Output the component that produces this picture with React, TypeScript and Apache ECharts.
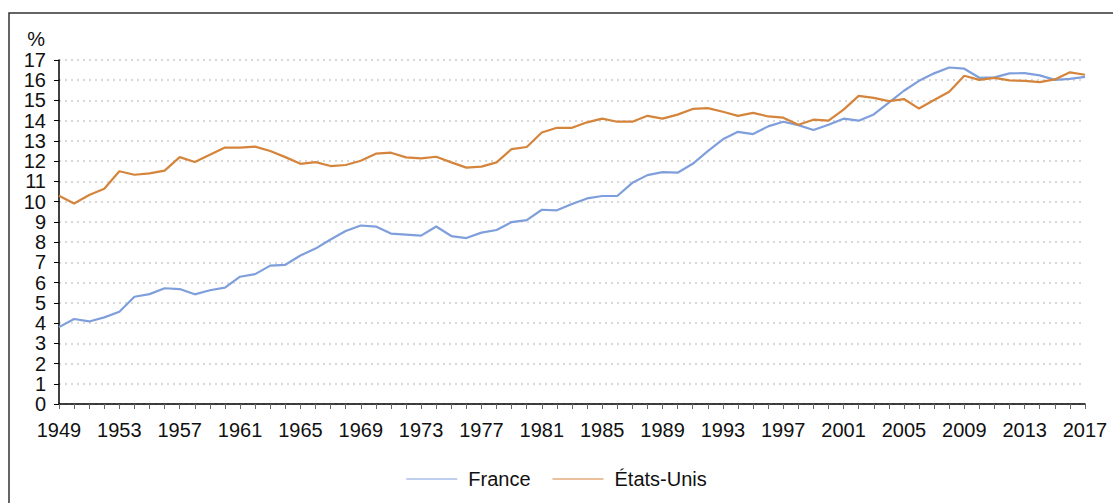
import React, { useEffect, useRef } from "react";
import * as echarts from "echarts";

const years: string[] = [];
for (let y = 1949; y <= 2017; y++) years.push(String(y));

const france = [
  3.8, 4.2, 4.08, 4.28, 4.56, 5.3, 5.43, 5.72, 5.68, 5.42,
  5.62, 5.75, 6.29, 6.42, 6.84, 6.88, 7.34, 7.68, 8.13, 8.55,
  8.82, 8.77, 8.42, 8.37, 8.32, 8.77, 8.3, 8.2, 8.47, 8.6,
  8.99, 9.09, 9.6, 9.57, 9.88, 10.16, 10.28, 10.28, 10.93, 11.31,
  11.46, 11.43, 11.87, 12.5, 13.08, 13.45, 13.34, 13.72, 13.95, 13.78,
  13.54, 13.8, 14.1, 14.0, 14.31, 14.89, 15.48, 15.97, 16.34, 16.63,
  16.57, 16.12, 16.14, 16.34, 16.35, 16.24, 16.02, 16.07, 16.17,
];

const usa = [
  10.29, 9.91, 10.33, 10.64, 11.5, 11.33, 11.4, 11.53, 12.2, 11.96,
  12.32, 12.67, 12.67, 12.72, 12.5, 12.2, 11.87, 11.95, 11.76, 11.81,
  12.02, 12.37, 12.42, 12.19, 12.14, 12.22, 11.94, 11.68, 11.73, 11.94,
  12.6, 12.7, 13.42, 13.65, 13.65, 13.92, 14.1, 13.95, 13.95, 14.24,
  14.1, 14.3, 14.58, 14.62, 14.44, 14.24, 14.39, 14.21, 14.15, 13.8,
  14.05, 14.0, 14.55, 15.23, 15.13, 14.97, 15.07, 14.6, 15.02, 15.43,
  16.22, 16.02, 16.12, 15.99, 15.97, 15.91, 16.04, 16.39, 16.27,
];

const FONT = "Liberation Sans, Arial, Helvetica, sans-serif";

export default function App() {
  const ref = useRef<HTMLDivElement>(null);
  useEffect(() => {
    if (!ref.current) return;
    const chart = echarts.init(ref.current, null, { renderer: "svg" });
    chart.setOption({
      animation: false,
      textStyle: { fontFamily: FONT },
      grid: { left: 59, right: 28, top: 60, bottom: 99, containLabel: false },
      graphic: [
        {
          type: "rect",
          shape: { x: 9, y: 13, width: 1200, height: 600 },
          style: { fill: "none", stroke: "#333", lineWidth: 1.5 },
          silent: true,
        },
        {
          type: "text",
          x: 45,
          y: 39,
          style: {
            text: "%",
            fontSize: 20,
            fontFamily: FONT,
            fill: "#111",
            align: "right",
            verticalAlign: "middle",
          },
        },
      ],
      legend: {
        top: 464,
        left: "center",
        itemWidth: 51,
        itemHeight: 10,
        itemGap: 22,
        textStyle: { fontSize: 20, color: "#111", fontFamily: FONT, padding: [0, 0, 0, 6] },
        data: [
          { name: "France", icon: "path://M0,4.4L51,4.4L51,5.6L0,5.6Z" },
          { name: "États-Unis", icon: "path://M0,4.4L51,4.4L51,5.6L0,5.6Z" },
        ],
      },
      xAxis: {
        type: "category",
        data: years,
        boundaryGap: false,
        axisLine: { lineStyle: { color: "#000", width: 1.5 } },
        axisTick: {
          show: true,
          interval: 0,
          length: 5,
          lineStyle: { color: "#666" },
        },
        axisLabel: {
          interval: 3,
          fontSize: 20,
          color: "#111",
          margin: 16,
          fontFamily: FONT,
        },
        splitLine: { show: false },
      },
      yAxis: {
        type: "value",
        min: 0,
        max: 17,
        interval: 1,
        axisLine: { show: true, lineStyle: { color: "#000", width: 1.5 } },
        axisTick: { show: true, length: 5, lineStyle: { color: "#000" } },
        axisLabel: {
          fontSize: 20,
          color: "#111",
          margin: 13,
          fontFamily: FONT,
        },
        splitLine: {
          show: true,
          lineStyle: { color: "#cccccc", type: [2, 4], width: 1.5 },
        },
      },
      series: [
        {
          name: "France",
          type: "line",
          data: france,
          symbol: "none",
          lineStyle: { color: "#7f9fdc", width: 2.2 },
          itemStyle: { color: "#7f9fdc" },
        },
        {
          name: "États-Unis",
          type: "line",
          data: usa,
          symbol: "none",
          lineStyle: { color: "#d5843b", width: 2.2 },
          itemStyle: { color: "#d5843b" },
        },
      ],
    });
    return () => chart.dispose();
  }, []);
  return <div ref={ref} style={{ width: 1113, height: 503, position: "absolute", left: 0, top: 0 }} />;
}
